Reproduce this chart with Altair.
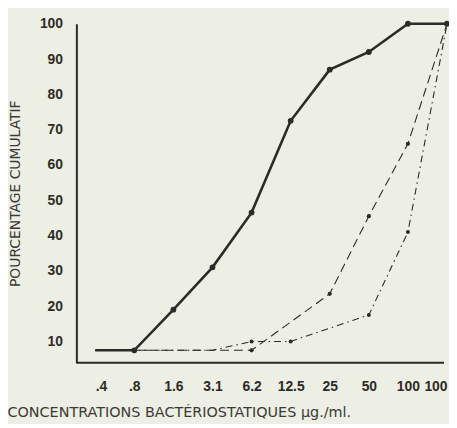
import altair as alt
import pandas as pd

# ---- data ----
conc_labels = [".4", ".8", "1.6", "3.1", "6.2", "12.5", "25", "50", "100", "100"]
y_ticks = [10, 20, 30, 40, 50, 60, 70, 80, 90, 100]

solid = [7.5, 7.5, 19, 31, 46.5, 72.5, 87, 92, 100, 100]
dashed = [7.5, 7.5, 7.5, 7.5, 7.5, None, 23.5, 45.5, 66, 100]
dashdot = [7.5, 7.5, 7.5, 7.5, 10, 10, None, 17.5, 41, 100]

solid_marked = [False, True, True, True, True, True, True, True, True, True]
dashed_marked = [False, False, False, False, True, False, True, True, True, True]
dashdot_marked = [False, False, False, False, True, True, False, True, True, True]

INK = "#2b2b27"
BG = "#edeee4"
LABEL_FONT = "Liberation Sans"
TITLE_FONT = "DejaVu Sans"


def frame(values, marked):
    rows = []
    for i, (v, m) in enumerate(zip(values, marked)):
        if v is not None:
            rows.append({"idx": i, "value": v, "marked": m})
    return pd.DataFrame(rows)


label_expr = "[" + ",".join("'%s'" % s for s in conc_labels) + "][datum.value]"

X = alt.X(
    "idx:O",
    scale=alt.Scale(domain=list(range(len(conc_labels))), padding=0),
    axis=alt.Axis(
        title="CONCENTRATIONS BACTÉRIOSTATIQUES µg./ml.",
        labelExpr=label_expr,
        labelAngle=0,
        labelFlush=True,
        labelOverlap=False,
        domain=False,
        ticks=False,
        grid=False,
        labelPadding=17,
        labelFont=LABEL_FONT,
        labelFontWeight="bold",
        labelFontSize=14,
        labelColor=INK,
        titleFont=TITLE_FONT,
        titleFontWeight="normal",
        titleFontSize=14.5,
        titleColor="#3a3a36",
        titleAnchor="start",
        titleAlign="left",
        titleBaseline="middle",
        titleX=-89,
        titleY=50,
    ),
)

Y = alt.Y(
    "value:Q",
    scale=alt.Scale(domain=[4, 100], nice=False, zero=False),
    axis=alt.Axis(
        title="POURCENTAGE CUMULATIF",
        values=y_ticks,
        offset=19,
        domainColor=INK,
        domainWidth=2,
        ticks=False,
        grid=False,
        labelPadding=14,
        labelFont=LABEL_FONT,
        labelFontWeight="bold",
        labelFontSize=14,
        labelColor=INK,
        titleFont=TITLE_FONT,
        titleFontWeight="normal",
        titleFontSize=14,
        titleColor="#3a3a36",
        titleX=-61,
        titleY=171,
        titleAngle=270,
        titleAlign="center",
        titleBaseline="middle",
    ),
)


def series(values, marked, width, dash, msize):
    df = frame(values, marked)
    base = alt.Chart(df)
    line_kw = dict(color=INK, strokeWidth=width, strokeCap="butt")
    if dash:
        line_kw["strokeDash"] = dash
    line = base.mark_line(**line_kw).encode(x=X, y=Y)
    pts = (
        base.transform_filter("datum.marked")
        .mark_circle(color=INK, opacity=1, size=msize)
        .encode(x=X, y=Y)
    )
    return line + pts


baseline = alt.Chart(pd.DataFrame({"a": [0]})).mark_rule(
    color=INK, strokeWidth=2
).encode(x=alt.value(-19), x2=alt.value(352), y=alt.value(342))

chart = (
    alt.layer(
        series(dashdot, dashdot_marked, 1.1, [7, 4, 1.5, 4], 16),
        series(dashed, dashed_marked, 1.1, [9, 5], 18),
        series(solid, solid_marked, 2.6, None, 34),
        baseline,
    )
    .properties(
        width=355,
        height=342,
        background=BG,
        autosize=alt.AutoSizeParams(type="none"),
        padding={"left": 88, "top": 14, "right": 2, "bottom": 60},
    )
    .configure_view(stroke=None)
)

chart.save("out.html", embed_options={"renderer": "svg", "actions": False})
